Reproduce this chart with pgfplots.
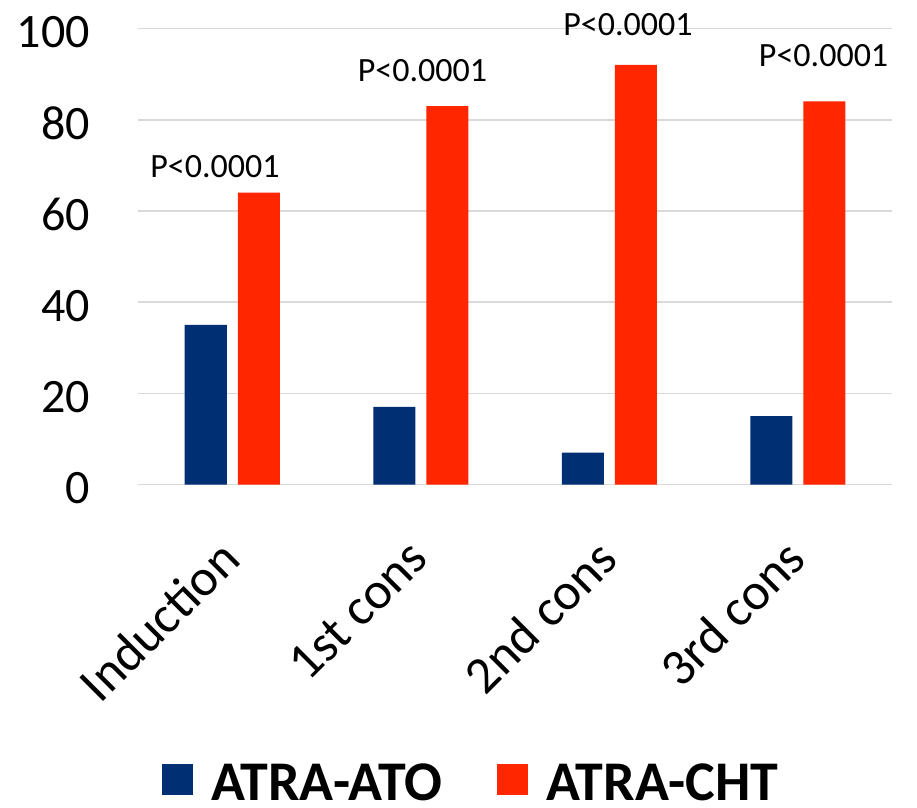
\documentclass[border=0pt]{standalone}
\usepackage{fontspec}
\setmainfont{Carlito}
\usepackage{pgfplots}
\pgfplotsset{compat=1.18}
\definecolor{atonavy}{RGB}{0,48,115}
\definecolor{chtred}{RGB}{255,38,0}
\definecolor{gridgray}{RGB}{217,217,217}
\begin{document}
\begin{tikzpicture}
\begin{axis}[
  at={(0pt,0pt)}, anchor=south west,
  scale only axis, width=754pt, height=456pt,
  xmin=-0.5, xmax=3.5, ymin=0, ymax=100,
  clip=false,
  axis line style={draw=none},
  major tick length=0pt,
  ytick={0,20,40,60,80,100},
  ymajorgrids, grid style={gridgray, line width=1.6pt},
  xtick={0,1,2,3},
  xticklabels={Induction,1st cons,2nd cons,3rd cons},
  /pgf/number format/assume math mode=true,
  yticklabel style={font=\fontsize{48}{54}\selectfont, anchor=east, inner sep=0pt, xshift=-48pt, yshift=-4pt},
  xticklabel style={font=\fontsize{52}{58}\selectfont, xshift=-2pt, yshift=-65pt, rotate=45, anchor=east, inner sep=0pt},
  legend columns=2,
  legend style={draw=none, fill=none, at={(0.4412,-0.652)}, anchor=center,
    inner sep=0pt,
    nodes={text depth=0pt, inner sep=1pt},
    font=\bfseries\fontsize{56}{60}\selectfont,
    /tikz/every odd column/.append style={column sep=17pt},
    /tikz/every even column/.append style={column sep=54pt}},
]
\addplot[ybar, bar width=42pt, bar shift=-26.5pt, fill=atonavy, draw=none,
  legend image code/.code={\fill[atonavy] (0pt,-13pt) rectangle (31pt,18pt);}]
  coordinates {(0,35) (1,17) (2,7) (3,15)};
\addlegendentry{ATRA-ATO}
\addplot[ybar, bar width=42pt, bar shift=26.5pt, fill=chtred, draw=none,
  legend image code/.code={\fill[chtred] (0pt,-13pt) rectangle (31pt,18pt);}]
  coordinates {(0,64) (1,83) (2,92) (3,84)};
\addlegendentry{ATRA-CHT}
\addplot[forget plot, only marks, mark=none,
  nodes near coords={P<0.0001},
  every node near coord/.append style={anchor=base, inner sep=0pt, font=\fontsize{34}{40}\selectfont, text=black}]
  coordinates {(-0.0915,67.4) (1.009,88.3) (2.099,98.4) (3.137,91.6)};
\end{axis}
\pgfresetboundingbox
\path[use as bounding box] (-138pt,-322.5pt) rectangle (779pt,484.5pt);
\end{tikzpicture}
\end{document}
